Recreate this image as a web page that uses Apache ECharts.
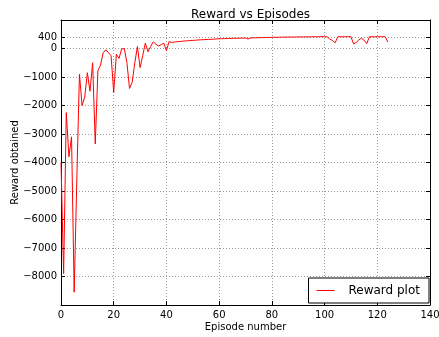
<!DOCTYPE html>
<html>
<head>
<meta charset="utf-8">
<script src="https://cdn.jsdelivr.net/npm/echarts@6/dist/echarts.min.js"></script>
<style>
  html, body { margin: 0; padding: 0; background: #fff; }
  #chart { width: 439px; height: 337px; }
</style>
</head>
<body>
<div id="chart"></div>
<script>
// Reward obtained per training episode (episodes 0..124)
const rewards = [
  -4000, -7900, -2250, -3800, -3100, -8550, -4600, -900, -2000, -1700,
  -850, -1500, -500, -3350, -780, -580, -150, -45, -150, -255,
  -1540, -200, -350, -20, 0, -490, -1400, -1190, -500, 70,
  -670, -250, 190, -115, 70, 235, 150, 90, 130, 190,
  -80, 245, 210,
  225, 240, 245, 255, 265, 270, 280, 285, 290, 300,
  305, 310, 315, 320, 320, 330, 335, 340, 345, 345,
  350, 355, 355, 360, 360, 365, 365, 370, 335, 370,
  375, 375, 380, 380, 385, 385, 390, 390, 395, 390,
  395, 400, 400, 400, 405, 400, 405, 405, 410, 405,
  410, 410, 410, 415, 410, 415, 415, 415, 410,
  330, 280, 200, 410, 415, 410, 415, 415, 415, 165,
  210, 300, 365, 290, 170, 410, 415, 410, 415, 410,
  415, 410, 225
];
const episodes = rewards.map((_, i) => i);

const xTicks = [0, 20, 40, 60, 80, 100, 120, 140];
const yTicks = [-8000, -7000, -6000, -5000, -4000, -3000, -2000, -1000, 0, 400];

const chartTitle = 'Reward vs Episodes';
const xName = 'Episode number';
const yName = 'Reward obtained';
const seriesName = 'Reward plot';

const FONT = 'DejaVu Sans';
const minus = v => String(v).replace('-', '\u2212');

const axisLine = { show: true, onZero: false, lineStyle: { color: '#000', width: 1 } };
const tickStyle = { color: '#000', width: 1 };
const gridLine = { show: true, lineStyle: { color: '#999', width: 1, type: [1, 2] } };

const chart = echarts.init(document.getElementById('chart'), null, { renderer: 'canvas' });
chart.setOption({
  animation: false,
  backgroundColor: '#fff',
  title: {
    text: chartTitle,
    left: 245.5,
    top: 4,
    textAlign: 'center',
    textStyle: { fontFamily: FONT, fontSize: 12, fontWeight: 'normal', color: '#000' }
  },
  grid: { left: 61, right: 9, top: 20, bottom: 32, containLabel: false, outerBoundsMode: 'none' },
  legend: {
    data: [seriesName],
    right: 10,
    bottom: 34,
    orient: 'horizontal',
    backgroundColor: '#fff',
    borderColor: '#000',
    borderWidth: 1,
    borderRadius: 0,
    padding: [6, 9, 6, 8],
    icon: 'rect',
    itemWidth: 18,
    itemHeight: 1,
    textStyle: { fontFamily: FONT, fontSize: 12, color: '#000', padding: [0, 0, 0, 9], lineHeight: 13 }
  },
  xAxis: [
    {
      type: 'value', min: 0, max: 140, interval: 20, position: 'bottom',
      name: xName, nameLocation: 'middle', nameGap: 17, nameMoveOverlap: false,
      nameTextStyle: { fontFamily: FONT, fontSize: 10, color: '#000' },
      axisLine: axisLine,
      axisTick: { show: true, inside: true, length: 4, lineStyle: tickStyle },
      axisLabel: { fontFamily: FONT, fontSize: 10, color: '#000', margin: 5,
                   customValues: xTicks },
      splitLine: gridLine
    },
    {
      type: 'value', min: 0, max: 140, interval: 20, position: 'top',
      axisLine: axisLine,
      axisTick: { show: true, inside: true, length: 4, lineStyle: tickStyle },
      axisLabel: { show: false },
      splitLine: { show: false }
    }
  ],
  yAxis: [
    {
      type: 'value', min: -9000, max: 1000, position: 'left',
      name: yName, nameLocation: 'middle', nameGap: 41, nameMoveOverlap: false,
      nameTextStyle: { fontFamily: FONT, fontSize: 10, color: '#000' },
      axisLine: axisLine,
      axisTick: { show: true, inside: true, length: 4, lineStyle: tickStyle, customValues: yTicks },
      axisLabel: { fontFamily: FONT, fontSize: 10, color: '#000', margin: 4,
                   customValues: yTicks, formatter: v => minus(v) },
      splitLine: gridLine
    },
    {
      type: 'value', min: -9000, max: 1000, position: 'right',
      axisLine: axisLine,
      axisTick: { show: true, inside: true, length: 4, lineStyle: tickStyle, customValues: yTicks },
      axisLabel: { show: false },
      splitLine: { show: false }
    }
  ],
  series: [
    {
      name: seriesName,
      type: 'line',
      xAxisIndex: 0,
      yAxisIndex: 0,
      symbol: 'none',
      lineStyle: { color: '#ff0000', width: 1 },
      itemStyle: { color: '#ff0000' },
      data: episodes.map((x, i) => [x, rewards[i]])
    }
  ]
});
</script>
</body>
</html>
